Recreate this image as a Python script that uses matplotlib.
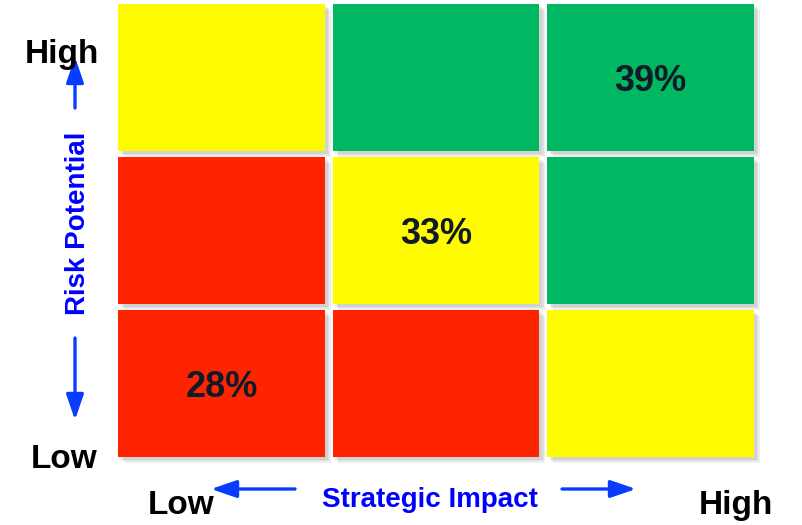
import numpy as np
import matplotlib
matplotlib.use("Agg")
import matplotlib.pyplot as plt
import matplotlib.patheffects as pe
from matplotlib.patches import Rectangle

plt.rcParams['font.family'] = ['Liberation Sans', 'DejaVu Sans']

# grid data: row 0 = low risk, col 0 = low impact
cell_colors = [
    ['red', 'red', 'yellow'],      # low risk
    ['red', 'yellow', 'green'],    # medium
    ['yellow', 'green', 'green'],  # high risk
]
palette = {'red': '#ff2400', 'yellow': '#fffb00', 'green': '#00b862'}
pct_cells = [(0, 0), (1, 1), (2, 2)]   # (col, row)
pct_values = [28, 33, 39]

y_labels = ['Low', 'High']
x_labels = ['Low', 'High']
x_title = 'Strategic Impact'
y_title = 'Risk Potential'

W, H = 803, 525
fig = plt.figure(figsize=(W / 100, H / 100), dpi=100)

cw, ch = 0.965, 0.961
ax = fig.add_axes([118 / W, 68 / H, 636 / W, 453 / H])
ax.set_xlim(0, 2 + cw)
ax.set_ylim(0, 2 + ch)
ax.axis('off')

# soft drop shadow: a few stacked offsets
shadow = [pe.SimplePatchShadow(offset=(o, -o), shadow_rgbFace='#777777', alpha=0.12)
          for o in (4, 3, 2)] + [pe.Normal()]
for r, row in enumerate(cell_colors):
    for c, name in enumerate(row):
        rect = Rectangle((c, r), cw, ch, facecolor=palette[name], edgecolor='none',
                         clip_on=False)
        rect.set_path_effects(shadow)
        ax.add_patch(rect)

for (c, r), v in zip(pct_cells, pct_values):
    ax.text(c + cw / 2, r + ch / 2, f'{v}%', ha='center', va='center_baseline',
            fontsize=26, fontweight='bold', color='#111a28')

# axis end labels
lab = dict(fontsize=24, fontweight='bold', color='black', ha='center', va='baseline')
fig.text(62 / W, 462 / H, y_labels[1], **lab)
fig.text(64 / W, 57 / H, y_labels[0], **lab)
fig.text(181 / W, 11 / H, x_labels[0], **lab)
fig.text(736 / W, 11 / H, x_labels[1], **lab)

blue = '#0000ff'
fig.text(430 / W, 18 / H, x_title, fontsize=20, fontweight='bold', color=blue,
         ha='center', va='baseline')
fig.text(78 / W, 302 / H, y_title, fontsize=20, fontweight='bold', color=blue,
         ha='center', va='center', rotation=90)

arrow_col = '#0a3cff'
aprops = dict(arrowstyle='-|>,head_length=0.7,head_width=0.24', lw=2.4, color=arrow_col,
              mutation_scale=22, shrinkA=0, shrinkB=0)
for tail, head in [((75, 417), (75, 468)), ((75, 187), (75, 105)),
                   ((295, 36), (211, 36)), ((562, 36), (636, 36))]:
    ax.annotate('', xy=head, xytext=tail, xycoords='figure pixels',
                textcoords='figure pixels', arrowprops=aprops)

fig.savefig('out.png', dpi=100)
